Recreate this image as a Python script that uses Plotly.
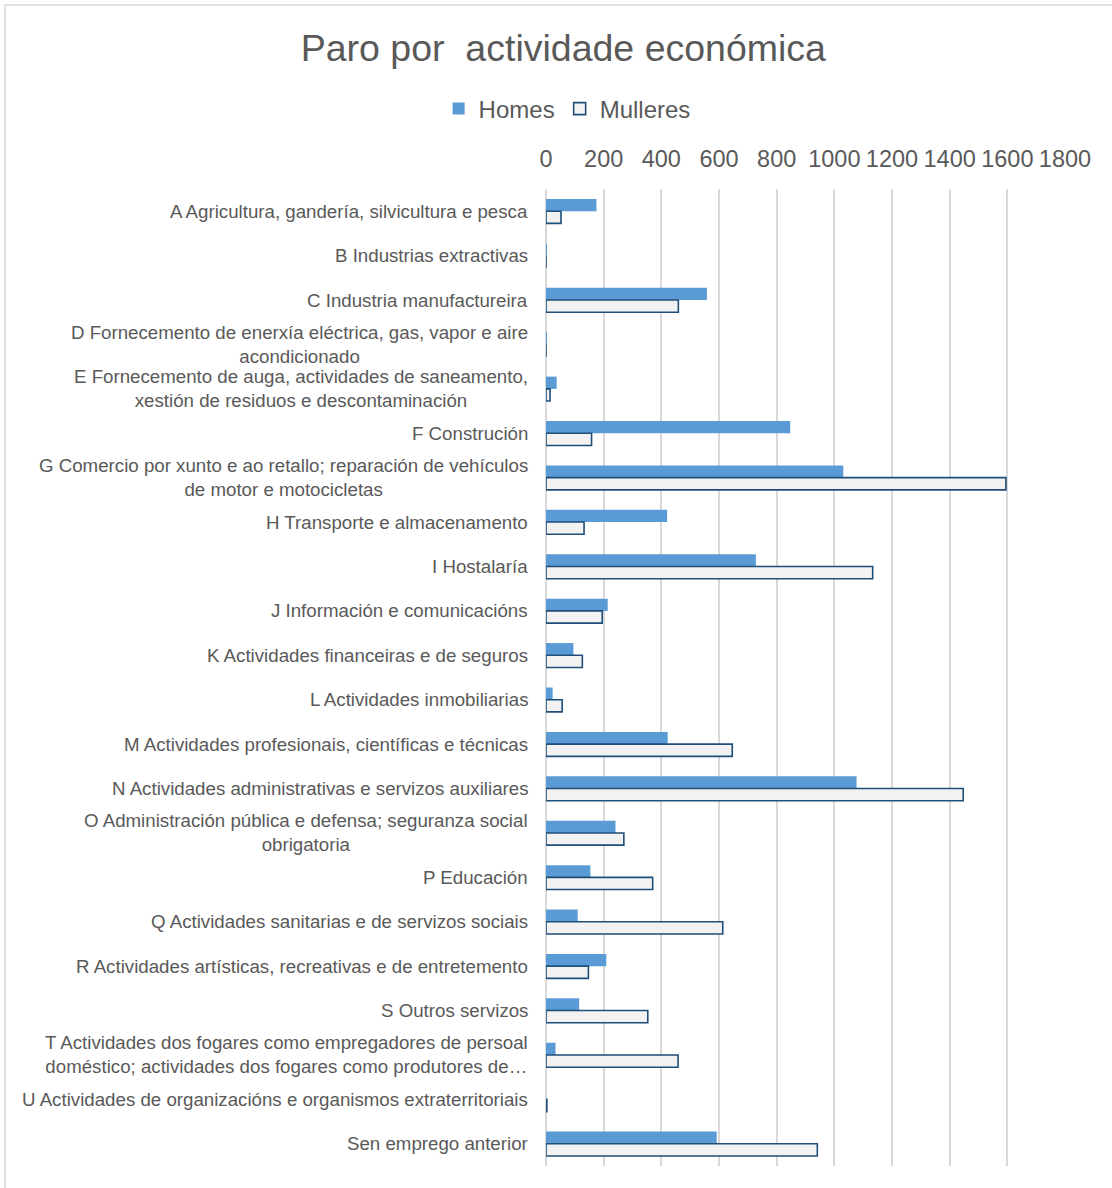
import plotly.graph_objects as go

# data
categories = [
    "A Agricultura, gandería, silvicultura e pesca",
    "B Industrias extractivas",
    "C Industria manufactureira",
    "D Fornecemento de enerxía eléctrica, gas, vapor e aire<br>acondicionado",
    "E Fornecemento de auga, actividades de saneamento,<br>xestión de residuos e descontaminación",
    "F Construción",
    "G Comercio por xunto e ao retallo; reparación de vehículos<br>de motor e motocicletas",
    "H Transporte e almacenamento",
    "I Hostalaría",
    "J Información e comunicacións",
    "K Actividades financeiras e de seguros",
    "L Actividades inmobiliarias",
    "M Actividades profesionais, científicas e técnicas",
    "N Actividades administrativas e servizos auxiliares",
    "O Administración pública e defensa; seguranza social<br>obrigatoria",
    "P Educación",
    "Q Actividades sanitarias e de servizos sociais",
    "R Actividades artísticas, recreativas e de entretemento",
    "S Outros servizos",
    "T Actividades dos fogares como empregadores de persoal<br>doméstico; actividades dos fogares como produtores de…",
    "U Actividades de organizacións e organismos extraterritoriais",
    "Sen emprego anterior",
]
homes = [175, 2, 558, 3, 37, 847, 1031, 420, 728, 214, 95, 23, 422, 1077,
         241, 154, 110, 209, 115, 33, 0, 592]
mulleres = [52, 0, 459, 0, 14, 158, 1595, 132, 1133, 195, 126, 56, 646, 1447,
            270, 370, 613, 147, 353, 458, 3, 941]
x_ticks = [0, 200, 400, 600, 800, 1000, 1200, 1400, 1600, 1800]

font_family = "Liberation Sans, Arial, sans-serif"
grey_text = "#595959"

fig = go.Figure()
fig.add_trace(go.Bar(y=categories, x=homes, name="Homes", orientation="h",
                     marker=dict(color="#5B9BD5", line=dict(width=0))))
fig.add_trace(go.Bar(y=categories, x=mulleres, name="Mulleres", orientation="h",
                     marker=dict(color="#F2F2F2", line=dict(color="#1F4E79", width=1.6))))

# category labels as annotations so wrapped lines are centred like the original
for cat in categories:
    fig.add_annotation(x=0, xref="paper", y=cat, yref="y", text=cat,
                       xanchor="right", yanchor="middle", align="center",
                       xshift=-16, showarrow=False,
                       font=dict(family=font_family, size=18.7, color=grey_text))

# thin frame around the chart area
fig.add_shape(type="rect", xref="paper", yref="paper",
              x0=-1.0424, x1=2.0, y0=-0.5, y1=1.1883,
              line=dict(color="#D9D9D9", width=1.5), fillcolor="rgba(0,0,0,0)",
              layer="below")

fig.update_layout(
    width=1112, height=1188,
    margin=dict(l=546, r=47, t=189, b=22),
    paper_bgcolor="white",
    plot_bgcolor="white",
    barmode="group",
    bargap=0.45,
    bargroupgap=0,
    title=dict(text="Paro por  actividade económica", x=0.5066, xanchor="center",
               y=1 - 48 / 1188, yanchor="middle",
               font=dict(family=font_family, size=37.5, color=grey_text)),
    legend=dict(orientation="h", xref="container", yref="container",
                x=0.51, xanchor="center", y=1 - 109 / 1188, yanchor="middle",
                font=dict(family=font_family, size=24, color=grey_text),
                itemwidth=30, traceorder="normal"),
    xaxis=dict(side="top", range=[0, 1800], tickvals=x_ticks,
               showgrid=True, gridcolor="#D9D9D9", gridwidth=1.5,
               zeroline=True, zerolinecolor="#D9D9D9", zerolinewidth=1.5,
               showline=False, ticks="outside", ticklen=12,
               tickcolor="rgba(0,0,0,0)",
               tickfont=dict(family=font_family, size=23.5, color=grey_text)),
    yaxis=dict(categoryorder="array", categoryarray=categories,
               autorange="reversed", showticklabels=False, showgrid=False,
               zeroline=False, showline=False, ticks=""),
    showlegend=True,
)

# drop the page's default body margin so the figure sits at the window origin
fig.write_html("out.html", config={"displayModeBar": False},
               post_script="document.body.style.margin = '0';")
